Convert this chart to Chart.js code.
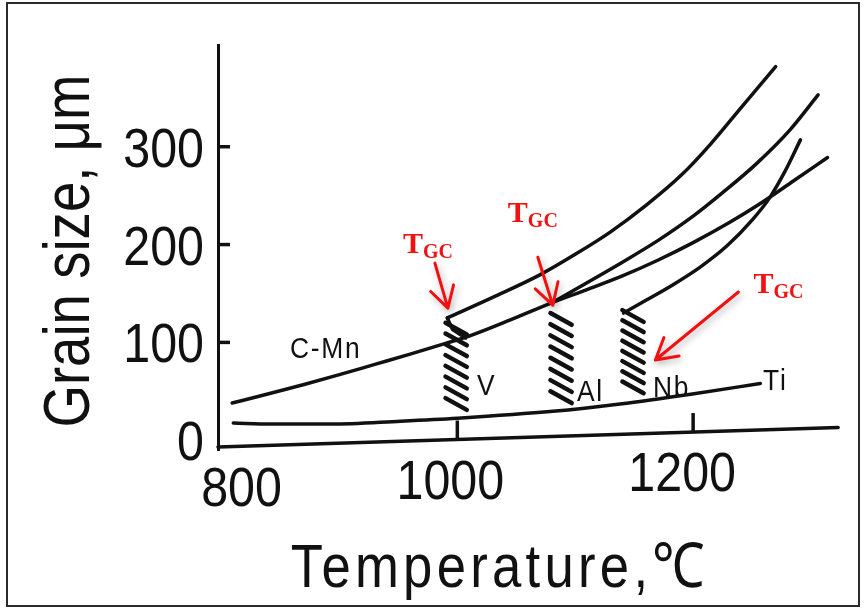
<!DOCTYPE html>
<html>
<head>
<meta charset="utf-8">
<script src="https://cdn.jsdelivr.net/npm/chart.js@4.4.1/dist/chart.umd.min.js"></script>
<style>
  html, body { margin: 0; padding: 0; background: #fff; }
  #wrap { position: relative; width: 866px; height: 610px; overflow: hidden; }
  #wrap canvas { position: absolute; left: 0; top: 0; }
  #frame { position: absolute; left: 6px; top: 2px; width: 850px; height: 601px; border: 2px solid #2a2a2a; pointer-events: none; }
</style>
</head>
<body>
<div id="wrap">
  <canvas id="grain" width="866" height="610"></canvas>
  <div id="frame"></div>
</div>
<script>
// austenite grain size (µm) against reheating temperature (°C)
const cmnTemp = [809, 840, 870, 900, 930, 960, 990, 1010, 1045, 1081, 1110, 1140, 1170, 1200, 1230, 1257, 1285, 1314];
const cmnSize = [38, 47.5, 57, 67, 77.5, 88, 99, 106.5, 123, 141, 154, 168, 184, 202, 222, 242, 265, 289];

const vTemp = [991.5, 1030, 1070, 1100, 1130, 1160, 1190, 1215, 1240, 1270];
const vSize = [125, 146, 169, 190, 213, 240, 271, 303, 339, 382];
// step from the C-Mn curve up to the V curve
const vStepTemp = [991.5, 996, 1007];
const vStepSize = [125, 113, 104.5];

const alTemp = [1081, 1110, 1140, 1170, 1200, 1225, 1254, 1282, 1306];
const alSize = [141, 161, 182, 204, 229, 253, 283, 317, 353];

const nbTemp = [1141, 1160, 1183, 1206, 1229, 1250, 1265, 1278, 1291];
const nbSize = [130, 143, 159, 177, 199, 225, 248, 275, 307];

const tiTemp = [810, 842, 892, 952, 1000, 1081, 1138, 1198, 1257];
const tiSize = [17.5, 16.5, 16.5, 19.5, 22.5, 29.5, 37, 47, 58];

// the temperature axis as drawn (slightly tilted)
const axisTemp = [797, 1323];
const axisSize = [-7, 13];

// hatched coarsening bands below each TGC
const bandNames = ['V', 'Al', 'Nb'];
const bandTemp = [990, 1079, 1140];
const bandTop = [120, 130, 133];
const bandBottom = [31, 38, 48];

// where the TGC arrows point
const tgcTemp = [992, 1081, 1168];
const tgcSize = [135, 138, 82];

const xTicks = [800, 1000, 1200];
const yTicks = [0, 100, 200, 300];
const curveNames = ['C-Mn', 'V', 'Al', 'Nb', 'Ti'];

const pts = (t, s) => t.map((v, i) => ({x: v, y: s[i]}));

const INK = '#111';
const SANS = "'Liberation Sans', Arial, sans-serif";

function hatch(i) {
  const n = 8, w = 18, drop = 12;
  const step = (bandTop[i] - bandBottom[i] - drop) / (n - 1);
  const out = [];
  for (let k = 0; k < n; k++) {
    const y0 = bandTop[i] - k * step;
    out.push({x: bandTemp[i], y: y0}, {x: bandTemp[i] + w, y: y0 - drop}, {x: bandTemp[i] + w, y: null});
  }
  return out;
}

function curve(data, extra) {
  return Object.assign({
    data: data,
    borderColor: INK,
    borderWidth: 3.5,
    pointRadius: 0,
    fill: false,
    cubicInterpolationMode: 'monotone',
    borderCapStyle: 'round'
  }, extra || {});
}

const datasets = [
  curve(pts(cmnTemp, cmnSize)),
  curve(pts(vTemp, vSize)),
  curve(pts(vStepTemp, vStepSize), {cubicInterpolationMode: 'default', tension: 0}),
  curve(pts(alTemp, alSize)),
  curve(pts(nbTemp, nbSize)),
  curve(pts(tiTemp, tiSize)),
  curve(pts(axisTemp, axisSize), {tension: 0, cubicInterpolationMode: 'default', clip: 8})
];
bandNames.forEach((name, i) => {
  datasets.push(curve(hatch(i), {tension: 0, cubicInterpolationMode: 'default', borderWidth: 4.5, spanGaps: false}));
});

// condensed lettering: squeeze the glyphs horizontally
function narrowText(ctx, text, x, y, opt) {
  ctx.save();
  ctx.translate(x, y);
  if (opt.rotate) ctx.rotate(opt.rotate);
  ctx.scale(opt.squeeze, 1);
  ctx.font = opt.font;
  ctx.letterSpacing = (opt.spacing || 0) + 'px';
  ctx.textAlign = opt.align || 'left';
  ctx.textBaseline = 'alphabetic';
  ctx.fillText(text, 0, 0);
  ctx.restore();
}

const annotate = {
  id: 'annotate',
  afterDraw(chart) {
    const {ctx, scales: {x, y}} = chart;
    const px = v => x.getPixelForValue(v);
    const py = v => y.getPixelForValue(v);
    const axisAt = t => py(axisSize[0] + (axisSize[1] - axisSize[0]) * (t - axisTemp[0]) / (axisTemp[1] - axisTemp[0]));

    ctx.save();
    ctx.strokeStyle = INK;
    ctx.fillStyle = INK;
    ctx.lineWidth = 3.5;
    ctx.lineCap = 'butt';

    // inward tick marks on the size axis
    yTicks.filter(v => v > 0).forEach(v => {
      ctx.beginPath();
      ctx.moveTo(x.left, py(v));
      ctx.lineTo(x.left + 12, py(v));
      ctx.stroke();
    });
    // upward tick marks on the temperature axis
    [1000, 1200].forEach(v => {
      ctx.beginPath();
      ctx.moveTo(px(v), axisAt(v));
      ctx.lineTo(px(v), axisAt(v) - 19);
      ctx.stroke();
    });

    // size tick labels
    yTicks.forEach(v => {
      narrowText(ctx, String(v), x.left - 14, py(v) + 20, {font: '55px ' + SANS, squeeze: 0.88, align: 'right'});
    });
    // size axis title
    narrowText(ctx, 'Grain size, \u03bcm', 89, 251, {font: '65px ' + SANS, squeeze: 0.84, align: 'center', rotate: -Math.PI / 2});

    // temperature tick labels
    const shift = [20, -7, -11];
    xTicks.forEach((v, i) => {
      narrowText(ctx, String(v), px(v) + shift[i], axisAt(v) + 59, {font: '55px ' + SANS, squeeze: 0.88, align: 'center'});
    });
    // temperature axis title
    narrowText(ctx, 'Temperature,\u2103', 500, 587, {font: '62px ' + SANS, squeeze: 0.85, spacing: 5, align: 'center'});

    // curve names
    const nameAt = [[858, 84], [1016.7, 46], [1101.5, 40], [1166, 44], [1259.3, 51]];
    curveNames.forEach((name, i) => {
      narrowText(ctx, name, px(nameAt[i][0]), py(nameAt[i][1]), {font: '30px ' + SANS, squeeze: 0.88, spacing: 2});
    });

    // TGC arrows and labels
    const tail = [[-13, -45], [-15, -48], [83, -68]];
    const label = [[-45, -55], [-45, -83], [98, -67]];
    ctx.strokeStyle = '#f21010';
    ctx.fillStyle = '#f21010';
    ctx.lineWidth = 3;
    ctx.lineCap = 'round';
    tgcTemp.forEach((t, i) => {
      const tx = px(t), ty = py(tgcSize[i]);
      const sx = tx + tail[i][0], sy = ty + tail[i][1];
      const ang = Math.atan2(ty - sy, tx - sx);
      ctx.save();
      ctx.shadowColor = 'rgba(0,0,0,0.3)';
      ctx.shadowBlur = 7;
      ctx.shadowOffsetX = 2;
      ctx.shadowOffsetY = 3;
      ctx.beginPath();
      ctx.moveTo(sx, sy);
      ctx.lineTo(tx, ty);
      [-0.52, 0.52].forEach(a => {
        ctx.moveTo(tx, ty);
        ctx.lineTo(tx - 24 * Math.cos(ang + a), ty - 24 * Math.sin(ang + a));
      });
      ctx.stroke();
      ctx.restore();

      const lx = tx + label[i][0], ly = ty + label[i][1];
      ctx.textAlign = 'left';
      ctx.textBaseline = 'alphabetic';
      ctx.font = "bold 30px 'Liberation Serif', serif";
      ctx.fillText('T', lx, ly);
      const w = ctx.measureText('T').width;
      ctx.font = "bold 20px 'Liberation Serif', serif";
      ctx.fillText('GC', lx + w, ly + 5);
    });
    ctx.restore();
  }
};

new Chart(document.getElementById('grain').getContext('2d'), {
  type: 'line',
  data: {datasets: datasets},
  options: {
    responsive: false,
    animation: false,
    events: [],
    layout: {padding: {left: 0, top: 45, right: 25.5, bottom: 160}},
    plugins: {legend: {display: false}, tooltip: {enabled: false}},
    scales: {
      x: {
        type: 'linear',
        min: 797,
        max: 1325,
        display: false
      },
      y: {
        type: 'linear',
        min: -10,
        max: 404,
        afterBuildTicks: axis => { axis.ticks = yTicks.map(v => ({value: v})); },
        afterFit: axis => { axis.width = 218; },
        grid: {display: false, drawTicks: false},
        border: {display: true, color: INK, width: 3},
        ticks: {display: false}
      }
    }
  },
  plugins: [annotate]
});
</script>
</body>
</html>
